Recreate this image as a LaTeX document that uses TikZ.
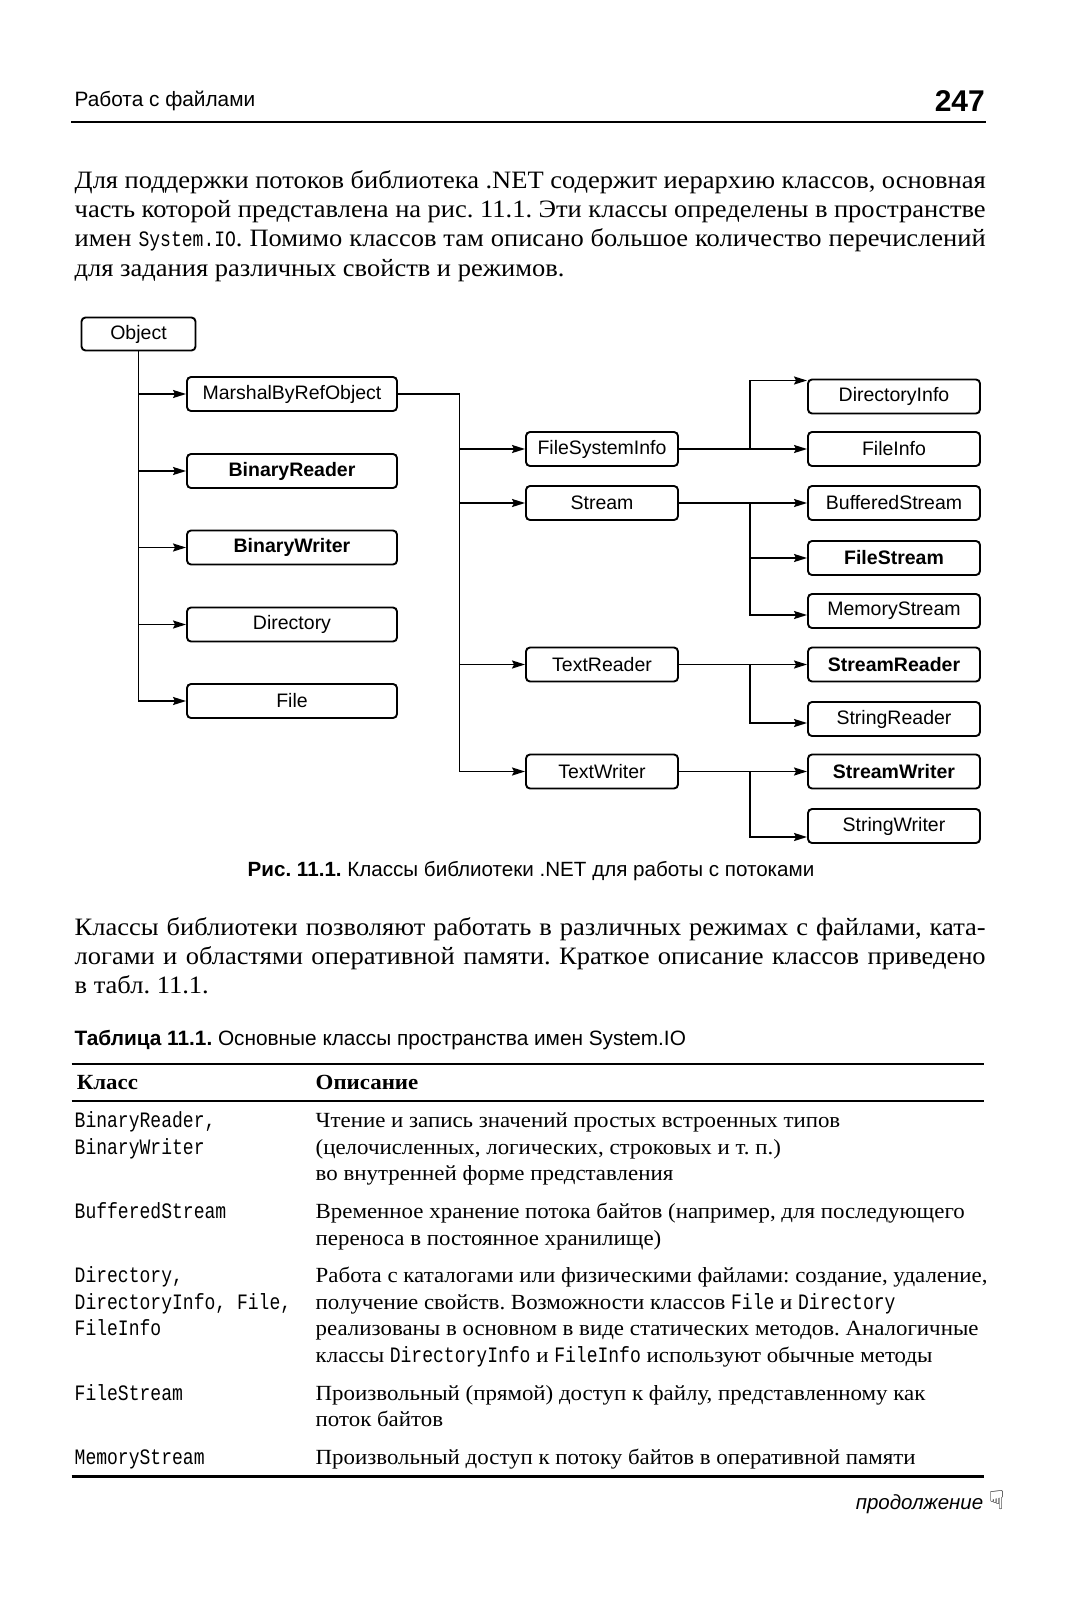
\documentclass[tikz,border=0pt]{standalone}
\usepackage{fontspec}
\setmainfont[FakeStretch=1.06]{Liberation Serif}
\setsansfont{Liberation Sans}
\newfontfamily\codefont[FakeStretch=0.82]{Liberation Mono}
\newfontfamily\symfont{DejaVu Sans}
\usetikzlibrary{arrows.meta}
\frenchspacing

\begin{document}
\begin{tikzpicture}[x=1pt,y=-1pt,>={Stealth[length=13pt,width=8pt,inset=2pt]},
  cls/.style={rectangle,rounded corners=4pt,draw=black,line width=1.9pt,minimum height=34pt,inner sep=0pt,font=\sffamily\fontsize{19.5}{22}\selectfont},
  leftcls/.style={cls,minimum width=210pt},
  midcls/.style={cls,minimum width=152pt},
  rightcls/.style={cls,minimum width=172pt},
  heavy/.style={font=\sffamily\bfseries\fontsize{19.5}{22}\selectfont},
  link/.style={->,line width=1.8pt},
  body/.style={anchor=base west,inner sep=0pt,font=\fontsize{25}{29}\selectfont},
  cell/.style={anchor=base west,inner sep=0pt,font=\fontsize{21.6}{26}\selectfont},
  code/.style={anchor=base west,inner sep=0pt,font=\codefont\fontsize{22}{26}\selectfont},
  hrule/.style={line width=2pt}]
\fill[white] (0,0) rectangle (1070,1601);
\useasboundingbox (0,0) rectangle (1070,1601);

% page head
\node[anchor=base west,inner sep=0pt,font=\sffamily\fontsize{20.8}{24}\selectfont] (head) at (74.5,106) {Работа с файлами};
\node[anchor=base east,inner sep=0pt,font=\sffamily\bfseries\fontsize{30}{34}\selectfont] (pageno) at (985,111) {247};
\draw[hrule] (71,122) -- (986,122);

% first paragraph
\node[body] (para1a) at (74.5,188) {\makebox[911pt][s]{Для поддержки потоков библиотека .NET содержит иерархию классов, основная}};
\node[body] (para1b) at (74.5,217) {\makebox[911pt][s]{часть которой представлена на рис. 11.1. Эти классы определены в пространстве}};
\node[body] (para1c) at (74.5,246) {\makebox[911pt][s]{имен {\codefont\fontsize{22}{26}\selectfont System.IO}. Помимо классов там описано большое количество перечислений}};
\node[body] (para1d) at (74.5,276) {для задания различных свойств и режимов.};

% class hierarchy
\node[cls,minimum width=114pt,minimum height=33pt] (obj) at (138.5,334) {Object};
\node[leftcls] (mbro) at (292,394) {MarshalByRefObject};
\node[leftcls,heavy] (breader) at (292,471) {BinaryReader};
\node[leftcls,heavy] (bwriter) at (292,547.5) {BinaryWriter};
\node[leftcls] (dir) at (292,624.5) {Directory};
\node[leftcls] (file) at (292,701) {File};

\node[midcls] (fsi) at (602,449) {FileSystemInfo};
\node[midcls] (stream) at (602,503) {Stream};
\node[midcls] (treader) at (602,664.5) {TextReader};
\node[midcls] (twriter) at (602,771.5) {TextWriter};

\node[rightcls] (dinfo) at (894,396.5) {DirectoryInfo};
\node[rightcls] (finfo) at (894,449) {FileInfo};
\node[rightcls] (bstream) at (894,503) {BufferedStream};
\node[rightcls,heavy] (fstream) at (894,558) {FileStream};
\node[rightcls] (mstream) at (894,611) {MemoryStream};
\node[rightcls,heavy] (sreader) at (894,664.5) {StreamReader};
\node[rightcls] (strreader) at (894,719) {StringReader};
\node[rightcls,heavy] (swriter) at (894,771.5) {StreamWriter};
\node[rightcls] (strwriter) at (894,826) {StringWriter};

\coordinate (bus1) at (459.5,394);
\coordinate (bus2) at (750,449);

\draw[link] (obj.south) |- (file.west);
\draw[link] (obj.south |- mbro.west) -- (mbro.west);
\draw[link] (obj.south |- breader.west) -- (breader.west);
\draw[link] (obj.south |- bwriter.west) -- (bwriter.west);
\draw[link] (obj.south |- dir.west) -- (dir.west);

\draw[link] (mbro.east) -- (bus1) |- (twriter.west);
\draw[link] (bus1 |- fsi.west) -- (fsi.west);
\draw[link] (bus1 |- stream.west) -- (stream.west);
\draw[link] (bus1 |- treader.west) -- (treader.west);

\draw[link] (fsi.east) -- (finfo.west);
\draw[link] (bus2 |- fsi.east) |- ([yshift=16pt]dinfo.west);
\draw[link] (stream.east) -- (bstream.west);
\draw[link] (bus2 |- stream.east) |- (fstream.west);
\draw[link] (bus2 |- stream.east) |- ([yshift=-4pt]mstream.west);
\draw[link] (treader.east) -- (sreader.west);
\draw[link] (bus2 |- treader.east) |- ([yshift=-4pt]strreader.west);
\draw[link] (twriter.east) -- (swriter.west);
\draw[link] (bus2 |- twriter.east) |- ([yshift=-11pt]strwriter.west);

\node[anchor=base,inner sep=0pt,font=\sffamily\fontsize{20.6}{24}\selectfont] (figcap) at (531,876) {\textbf{Рис. 11.1.} Классы библиотеки .NET для работы с потоками};

% second paragraph
\node[body] (para2a) at (74.5,935) {\makebox[911pt][s]{Классы библиотеки позволяют работать в различных режимах с файлами, ката-}};
\node[body] (para2b) at (74.5,964) {\makebox[911pt][s]{логами и областями оперативной памяти. Краткое описание классов приведено}};
\node[body] (para2c) at (74.5,993) {в табл. 11.1.};

% table
\node[anchor=base west,inner sep=0pt,font=\sffamily\fontsize{20.8}{24}\selectfont] (tabcap) at (74.5,1045) {\textbf{Таблица 11.1.} Основные классы пространства имен System.IO};
\draw[hrule,line width=2.4pt] (71.5,1064) -- (984,1064);
\node[cell,font=\bfseries\fontsize{21.6}{26}\selectfont] (hclass) at (76.6,1089) {Класс};
\node[cell,font=\bfseries\fontsize{21.6}{26}\selectfont] (hdesc) at (315.5,1089) {Описание};
\draw[hrule,line width=1.8pt] (71.5,1100.6) -- (984,1100.6);

\node[code] (c1a) at (74.5,1127) {BinaryReader,};
\node[code] (c1b) at (74.5,1154) {BinaryWriter};
\node[cell] (d1a) at (315.5,1127) {Чтение и запись значений простых встроенных типов};
\node[cell] (d1b) at (315.5,1154) {(целочисленных, логических, строковых и т. п.)};
\node[cell] (d1c) at (315.5,1180) {во внутренней форме представления};

\node[code] (c2a) at (74.5,1218) {BufferedStream};
\node[cell] (d2a) at (315.5,1218) {Временное хранение потока байтов (например, для последующего};
\node[cell] (d2b) at (315.5,1245) {переноса в постоянное хранилище)};

\node[code] (c3a) at (74.5,1282) {Directory,};
\node[code] (c3b) at (74.5,1309) {DirectoryInfo, File,};
\node[code] (c3c) at (74.5,1335) {FileInfo};
\node[cell] (d3a) at (315.5,1282) {Работа с каталогами или физическими файлами: создание, удаление,};
\node[cell] (d3b) at (315.5,1309) {получение свойств. Возможности классов {\codefont\fontsize{22}{26}\selectfont File} и {\codefont\fontsize{22}{26}\selectfont Directory}};
\node[cell] (d3c) at (315.5,1335) {реализованы в основном в виде статических методов. Аналогичные};
\node[cell] (d3d) at (315.5,1362) {классы {\codefont\fontsize{22}{26}\selectfont DirectoryInfo} и {\codefont\fontsize{22}{26}\selectfont FileInfo} используют обычные методы};

\node[code] (c4a) at (74.5,1400) {FileStream};
\node[cell] (d4a) at (315.5,1400) {Произвольный (прямой) доступ к файлу, представленному как};
\node[cell] (d4b) at (315.5,1426) {поток байтов};

\node[code] (c5a) at (74.5,1464) {MemoryStream};
\node[cell] (d5a) at (315.5,1464) {Произвольный доступ к потоку байтов в оперативной памяти};
\draw[hrule,line width=2.4pt] (71.5,1476.4) -- (984,1476.4);

\node[anchor=base east,inner sep=0pt,font=\sffamily\itshape\fontsize{20.5}{24}\selectfont] (more) at (1005,1509) {продолжение {\symfont\upshape\fontsize{26}{28}\selectfont ☟}};
\end{tikzpicture}
\end{document}
